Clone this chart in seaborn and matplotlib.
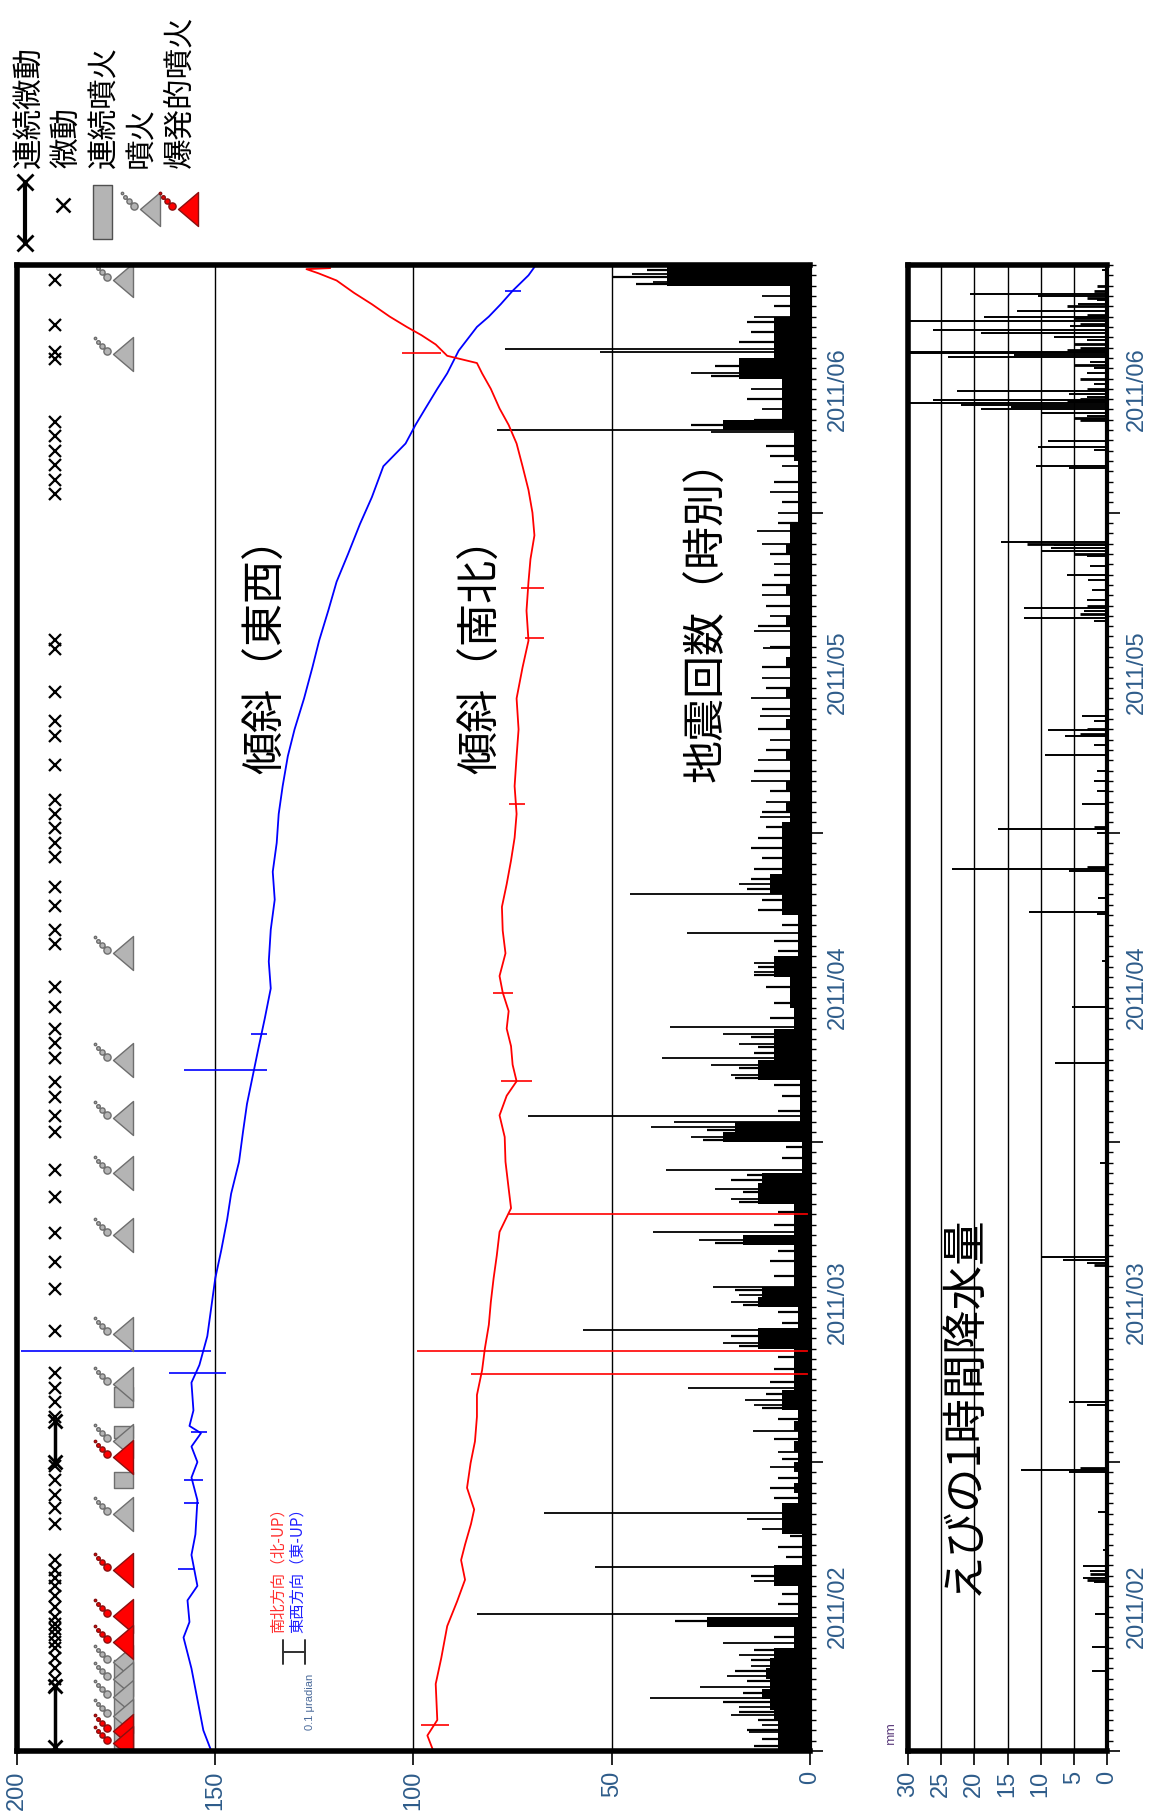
import numpy as np
import pandas as pd
import matplotlib
matplotlib.use("Agg")
import matplotlib.pyplot as plt
import matplotlib.dates as mdates
import matplotlib.transforms as mtransforms
from matplotlib.path import Path
import seaborn as sns

sns.set_theme(style="white")
plt.rcParams["font.family"] = ["Noto Sans CJK JP", "DejaVu Sans"]

START = pd.Timestamp("2011-02-01")
N_DAYS = 144  # Feb 1 - Jun 25

# ---- tilt (values on the 0-200 scale, time in days from Feb 1) ----
ew_day = [0, 2, 5, 8, 11, 12.5, 14.6, 16, 19, 21, 24.3, 26.5, 28, 29.5, 30.8, 31.5, 33,
          35.7, 37.4, 38.8, 40.2, 43, 45.8, 48.5, 51.5, 54, 57.1, 60, 62.7, 65.5, 68.3,
          71, 73.9, 76.5, 79.6, 82.5, 85.2, 88, 90.8, 93.5, 96.4, 99, 102, 105, 107.6,
          110.5, 113.3, 116, 118.9, 121.5, 124.5, 126.7, 128.5, 130.1, 132, 133.5, 135.7,
          137, 138, 139, 140.2, 141.5, 143, 143.8]
ew_val = [151, 153, 154.5, 156, 158, 156.5, 157, 154.5, 156, 155, 154.5, 156, 154.5, 156,
          153.6, 156.5, 155.5, 156, 154, 153, 152, 151, 150, 148.5, 147, 146, 144, 143,
          142, 140.5, 139, 137.5, 136, 136.5, 136, 135, 135.5, 134.5, 134, 133, 131.7,
          130, 127.6, 125.5, 123.8, 121.5, 119.4, 116.5, 113.5, 110.5, 107.6, 102, 99.5,
          97, 94, 91.5, 88.6, 86, 84, 81, 78, 75, 71, 69.5]

ns_day = [0, 1.5, 3, 6.5, 9, 12.1, 14.5, 16.6, 18.5, 20, 22, 23.4, 25.5, 27.9, 30, 32.4,
          34.5, 36.9, 39, 41.3, 43.5, 45.8, 48, 50.3, 52.6, 54.5, 57.1, 59.5, 61.6, 63.5,
          64.9, 66.5, 68.3, 70, 71.7, 73.5, 75.1, 77.3, 79.5, 81.8, 84, 86.3, 88.5, 90.8,
          93.5, 96.4, 99, 102, 105, 107.6, 110.5, 113.3, 115.5, 117.8, 120, 122.2, 124.5,
          126.7, 128.5, 130.1, 132, 133.5, 134.5, 135.2, 136.3, 137.2, 138, 139, 140.2,
          141.3, 142.5, 143.2, 143.6, 143.7]
ns_val = [95, 96.5, 94, 94.4, 93, 91.5, 89, 87, 88, 87, 85.5, 84.7, 86.5, 85.6, 84.5, 84,
          84, 82.7, 82, 81, 80.5, 79.8, 79, 78.3, 75.4, 76, 76.8, 77, 78.3, 76.5, 74, 75,
          75.4, 76.5, 76, 77.5, 78.3, 76.8, 77.5, 77.7, 76.5, 75.4, 74.5, 74, 74.5, 74,
          73.5, 74, 72.5, 71, 71.5, 71, 70.5, 69.5, 70, 71, 72.5, 74, 76, 78.3, 80.5, 82.7,
          84, 91.5, 94.4, 98, 101.7, 106, 110.5, 115, 119.4, 124, 127, 121]

# short offsets of the tilt records (day, low, high)
ew_spike_day = [38.8, 36.6, 66.0, 69.5, 30.9, 26.3, 17.6, 24.0, 141.5]
ew_spike_lo = [151, 147.4, 137, 137, 152, 153, 155, 154, 73]
ew_spike_hi = [199, 161.7, 158, 141, 156, 158, 159.5, 158, 77]
ns_spike_day = [38.8, 36.5, 52.0, 135.5, 107.9, 112.7, 91.8, 64.9, 73.5, 2.5]
ns_spike_lo = [0.5, 0.5, 0.5, 93, 67, 67, 72, 70, 75, 91]
ns_spike_hi = [99, 85.6, 76, 103, 72, 73, 76, 78, 80, 98]

# ---- hourly earthquake counts: daily bulk level + single-hour peaks ----
quake_daily = [8, 8, 8, 9, 10, 12, 10, 11, 10, 9, 4, 4, 26, 3, 3, 3, 9, 9, 2, 2,
               2, 7, 7, 7, 3, 4, 3, 4, 3, 4, 3, 4, 3, 7, 7, 4, 4, 4, 4, 13,
               13, 3, 3, 13, 12, 4, 4, 4, 4, 17, 4, 4, 4, 13, 13, 12, 2, 2, 2, 22,
               19, 2.5, 2.5, 2.5, 2.5, 13, 13, 9, 9, 9, 4, 4, 5, 5, 5, 9, 9, 3, 3, 3,
               3, 7, 7, 10, 10, 7, 7, 7, 7, 7, 5, 6, 5, 6, 5, 5, 6, 5, 5, 6,
               5, 5, 6, 5, 5, 6, 5, 5, 5, 6, 5, 5, 6, 5, 5, 5, 6, 5, 5, 3,
               3, 3, 3, 3, 3, 4, 4, 4, 22, 7, 7, 7, 7, 18, 18, 9, 9, 9, 9, 5,
               5, 5, 36, 36]
quake_spike_day = [70.2, 67.2, 61.5, 61.0, 56.3, 50.3, 45.0, 40.8, 35.2, 34.0, 31.0, 27.5,
                   23.1, 17.8, 13.3, 10.5, 7.3, 6.2, 5.1, 1.8, 143.1, 142.4, 135.9, 135.6,
                   128.0, 127.8, 118.2, 106.9, 100.3, 90.5, 83.0, 79.3, 76.4, 112, 110,
                   108.5, 104, 102, 98, 96, 94, 92, 115, 117, 120, 122, 124.5, 130, 132,
                   133.5, 139, 141, 2.5, 3.5, 4.3, 8.2, 9.3, 16.5, 21.5, 22.5, 29, 33.5,
                   39.5, 43.5, 44.2, 49.5, 53.5, 54.5, 59.5, 60.5, 65.5, 66.5, 68.5, 69.5,
                   75.5, 84]
quake_spike_val = [35.3, 37.4, 71, 34.4, 36.3, 39.5, 24.4, 57.3, 30.7, 16.4, 14.3, 10,
                   67, 54.2, 84, 22, 21, 27.7, 40.3, 15.5, 45, 39.5, 77, 53,
                   79, 25, 13.4, 11.8, 12.6, 12.6, 45.4, 31, 14, 12, 10,
                   14, 12, 15, 10, 13, 15, 11, 9, 12, 8, 10, 7, 12, 15,
                   30, 14, 12, 12, 20, 18, 15, 18, 14, 12, 16, 8, 14,
                   22, 20, 18, 28, 20, 24, 30, 40, 20, 25, 18, 22,
                   14, 18]
# smaller hourly peaks that roughen the edge of the dense black band
quake_small = [(0.5, 14), (1.2, 12), (2.0, 16), (3.0, 13), (3.8, 18), (4.7, 22), (5.6, 17),
               (6.8, 16), (7.8, 19), (8.8, 15), (9.8, 14), (11.0, 9), (12.6, 34), (14.2, 8),
               (15.2, 7), (17.0, 15), (18.8, 6), (19.8, 8), (20.8, 5), (24.5, 9), (25.5, 10),
               (26.5, 8), (28.3, 7), (30.2, 9), (32.2, 8), (33.2, 12), (34.6, 11), (35.8, 10),
               (37.0, 9), (38.2, 8), (39.2, 18), (40.2, 20), (41.5, 7), (42.5, 8), (43.2, 17),
               (44.7, 19), (46.0, 9), (47.5, 10), (48.5, 8), (49.2, 24), (51.0, 9), (52.2, 8),
               (53.2, 18), (54.2, 17), (55.3, 20), (55.8, 16), (57.5, 7), (58.5, 6),
               (59.2, 27), (60.2, 26), (62.0, 8), (63.5, 7), (64.5, 9), (65.2, 19), (66.2, 18),
               (67.6, 14), (68.2, 13), (69.2, 15), (71.0, 10), (72.5, 9), (74.0, 11),
               (75.2, 14), (76.0, 13), (77.5, 8), (78.5, 9), (80.0, 7), (81.5, 13), (82.5, 12),
               (83.5, 16), (84.5, 15), (85.5, 14), (86.5, 12), (87.5, 15), (88.5, 13),
               (89.5, 11), (91, 12), (93, 10), (95, 14), (97, 11), (99, 13), (101, 12),
               (103, 11), (105, 12), (107, 10), (109, 13), (111, 11), (113, 12), (114, 9),
               (116, 10), (119, 8), (121, 7), (123, 9), (125.5, 10), (126.5, 11), (128.5, 30),
               (129, 14), (131, 16), (133.2, 25), (134.2, 24), (136.5, 18), (137.5, 15),
               (138.5, 16), (140, 9), (142.2, 44), (142.8, 50), (143.5, 41)]

# ---- Ebino hourly rainfall (mm) ----
rain_day = [66.7, 57.0, 47.9, 47.6, 47.3, 33.8, 33.5, 27.2, 27.0, 23.2, 19.5, 17.9, 17.4,
            16.8, 16.4, 13.3, 10.1, 7.8, 143.5, 141.2, 141.0, 140.6, 140.2, 139.5, 139.0,
            138.6, 138.1, 137.7, 137.4, 137.0, 136.7, 135.6, 135.5, 135.3, 135.1, 134.6,
            134.0, 133.5, 132.5, 131.8, 131.5, 131.2, 130.9, 130.6, 130.4, 130.2, 130.0,
            129.7, 129.4, 126.9, 126.4, 126.1, 124.5, 124.3, 117.2, 116.9, 116.6, 116.3,
            115.8, 114.8, 114.0, 113.5, 112.5, 111.5, 110.8, 110.5, 109.8, 109.5, 100.3,
            99.8, 98.9, 98.4, 97.5, 96.5, 95.0, 94.0, 93.0, 91.8, 89.3, 89.0, 85.5, 85.3,
            82.7, 81.3, 81.1, 76.6, 72.1]
rain_mm = [7.9, 1.0, 9.9, 6.6, 3, 5.8, 3, 13, 5.8, 1.3, 0.6, 3.6, 2.5,
           3.6, 2, 1.8, 2.3, 2.3, 0.8, 20.6, 10.4, 1.5, 4.3, 13.5, 18.6,
           30, 5.6, 26.2, 19, 8, 3, 30, 30, 14, 23.9, 2.5,
           2, 3, 2, 22.6, 5.8, 3, 26.2, 30, 22, 14.5, 19,
           10, 3, 8.9, 10.4, 2, 10.7, 5.8, 16, 8, 8.5, 10,
           3, 2.5, 6.1, 2.8, 2.2, 3, 12.5, 3.5, 12.5, 2, 3.8,
           2, 8.9, 6.4, 2, 9.4, 1.5, 2, 1.5, 3.8, 16.5, 1.5, 23.4, 5.8,
           1.3, 11.7, 1.5, 0.8, 5.3]
rain_small = [(129.0, 4), (129.2, 5), (130.8, 6), (131.0, 4), (132.0, 3), (133.0, 4),
              (134.3, 5), (135.8, 6), (136.0, 4), (136.3, 5), (138.3, 4), (138.9, 5),
              (139.2, 3), (140.0, 6), (140.8, 3), (141.5, 2), (142.0, 1.5), (117.0, 12),
              (116.0, 5), (110.2, 4), (111.0, 3), (99.0, 3), (98.6, 4), (85.7, 3),
              (89.5, 2), (47.1, 2), (27.4, 4), (17.2, 2.5), (16.6, 3)]

# ---- volcanic activity (days from Feb 1) ----
tremor_day = [142.5, 138.2, 135.6, 134.9, 128.8, 127.4, 126, 124.6, 123.2, 121.8, 107.7,
              106.8, 102.6, 99.8, 98.4, 95.5, 92.2, 90.8, 89.4, 88, 86.6, 83.7, 81.9,
              79.6, 78.2, 74, 72.1, 70, 68.6, 67.2, 64.8, 63.4, 61.5, 60, 56.3, 53.7,
              50.2, 47.4, 44.8, 40.7, 36.6, 35.2, 33.8, 32.4, 27.6, 26.3, 24.8, 23.5, 22,
              18.5, 17.5, 16.8, 16, 15, 14, 13, 12.3, 11.8, 11.2, 10.6, 10, 9, 8, 7, 6.3]
tremor_cont_start = [28.0, 0.4]
tremor_cont_end = [32.0, 6.3]
eruption_day = [142.5, 135.4, 77.3, 67.0, 61.3, 56.0, 50.0, 40.4, 35.6, 30.0, 23.0,
                8.6, 7.0, 5.2, 3.4]
explosive_day = [28.5, 17.5, 13.1, 10.6, 1.9, 0.8]
erupt_cont_start = [0.0, 25.5, 30.3, 33.3]
erupt_cont_end = [8.8, 27.0, 31.5, 35.3]

LABEL_BLUE = "#2e5c8a"
NUM_FONT = ["Liberation Sans", "DejaVu Sans"]


def to_num(days):
    d = START + pd.to_timedelta(np.asarray(days, dtype=float), unit="D")
    return mdates.date2num(d)


def eruption_path():
    tri = Path([(10, -17), (10, 17), (-10, 0), (10, -17)],
               [Path.MOVETO, Path.LINETO, Path.LINETO, Path.CLOSEPOLY])
    puffs = [Path.circle((-16, 3), 3.6), Path.circle((-21, 8), 2.6),
             Path.circle((-25, 12), 1.8), Path.circle((-28, 16), 1.2)]
    return Path.make_compound_path(tri, *puffs)


ERUPT = eruption_path()
ERUPT_MS = 2 * np.abs(ERUPT.vertices).max() * 72 / 100

fig = plt.figure(figsize=(11.6, 18.2), dpi=100)
W, H = 1160, 1820
ax = fig.add_axes([17 / W, 1 - 1751 / H, 793 / W, 1486 / H])
ax_r = fig.add_axes([908 / W, 1 - 1751 / H, 199 / W, 1486 / H])

y0, y1 = to_num(0), to_num(N_DAYS)

# earthquake counts
edges = to_num(np.arange(N_DAYS + 1))
ax.fill_betweenx(edges, 0, np.append(quake_daily, quake_daily[-1]), step="post",
                 color="black", lw=0, zorder=2)
ax.hlines(to_num(quake_spike_day), 0, quake_spike_val, color="black", lw=1.3, zorder=2)
qs_day, qs_val = zip(*quake_small)
ax.hlines(to_num(qs_day), 0, qs_val, color="black", lw=1.6, zorder=2)

# tilt
sns.lineplot(x=ew_val, y=to_num(ew_day), orient="y", sort=False, estimator=None,
             color="#0000ff", lw=1.3, ax=ax, zorder=4)
sns.lineplot(x=ns_val, y=to_num(ns_day), orient="y", sort=False, estimator=None,
             color="#ff0000", lw=1.3, ax=ax, zorder=4)
ax.hlines(to_num(ew_spike_day), ew_spike_lo, ew_spike_hi, color="#0000ff", lw=1.2, zorder=4)
ax.hlines(to_num(ns_spike_day), ns_spike_lo, ns_spike_hi, color="#ff0000", lw=1.2, zorder=4)

# volcanic activity columns
TREM_X, ERUPT_X = 190.5, 173.3
for s, e in zip(tremor_cont_start, tremor_cont_end):
    ax.plot([TREM_X, TREM_X], [to_num(s), to_num(e)], color="black", lw=2.5, zorder=5)
    ax.plot([TREM_X, TREM_X], [to_num(s), to_num(e)], ls="none", marker="x", ms=10,
            mew=2, color="black", zorder=5)
ax.plot(np.full(len(tremor_day), TREM_X), to_num(tremor_day), ls="none", marker="x",
        ms=9, mew=1.6, color="black", zorder=5)
for s, e in zip(erupt_cont_start, erupt_cont_end):
    ax.fill_betweenx([to_num(s), to_num(e)], 170.8, 175.6, facecolor="#b4b4b4",
                     edgecolor="#6e6e6e", lw=1, zorder=5)
ax.plot(np.full(len(eruption_day), ERUPT_X), to_num(eruption_day), ls="none",
        marker=ERUPT, ms=ERUPT_MS, mfc="#b4b4b4", mec="#6e6e6e", mew=1, zorder=6)
ax.plot(np.full(len(explosive_day), ERUPT_X), to_num(explosive_day), ls="none",
        marker=ERUPT, ms=ERUPT_MS, mfc="#ff0000", mec="#8a1010", mew=1, zorder=7)

# rainfall
ax_r.hlines(to_num(rain_day), 0, rain_mm, color="black", lw=1.4, zorder=2)
rs_day, rs_mm = zip(*rain_small)
ax_r.hlines(to_num(rs_day), 0, rs_mm, color="black", lw=2.0, zorder=2)

# axes styling
ax.set_xlim(200, 0)
ax.set_ylim(y0, y1)
ax.set_xticks([200, 150, 100, 50, 0])
ax_r.set_xlim(30, 0)
ax_r.set_ylim(y0, y1)
ax_r.set_xticks([30, 25, 20, 15, 10, 5, 0])
for a in (ax, ax_r):
    a.set_xlabel("")
    a.set_ylabel("")
    a.grid(True, axis="x", color="black", lw=1.0, zorder=0)
    a.grid(False, axis="y")
    for name, sp in a.spines.items():
        sp.set_color("black")
        sp.set_linewidth(3 if name == "right" else 4)
        sp.set_zorder(10)
    a.tick_params(axis="x", bottom=True, direction="out", length=10, width=1.2,
                  labelrotation=90, labelsize=17, labelcolor=LABEL_BLUE, pad=4,
                  color="black")
    a.yaxis.tick_right()
    a.yaxis.set_major_locator(mdates.MonthLocator())
    a.yaxis.set_minor_locator(mdates.DayLocator())
    a.tick_params(axis="y", which="major", right=True, direction="out", length=9,
                  width=1.2, labelright=False, color="black")
    a.tick_params(axis="y", which="minor", right=True, direction="out", length=4.5,
                  width=1.0, color="black")
    for lbl in a.get_xticklabels():
        lbl.set_family(NUM_FONT)

    # month labels centred on the visible part of each month
    trans = mtransforms.blended_transform_factory(a.transAxes, a.transData)
    xpos = 1.035 if a is ax else 1.15
    for m in pd.date_range("2011-02-01", "2011-06-01", freq="MS"):
        lo = max(m, START)
        hi = min(m + pd.offsets.MonthBegin(1), START + pd.Timedelta(days=N_DAYS))
        mid = mdates.date2num(lo + (hi - lo) / 2)
        a.text(xpos, mid, m.strftime("%Y/%m"), transform=trans, rotation=90,
               ha="center", va="center", fontsize=17, color=LABEL_BLUE, family=NUM_FONT)

# labels inside the panels
ax.text(0.315, 0.744, "傾斜（東西）", transform=ax.transAxes, rotation=90,
        ha="center", va="center", fontsize=31, color="black", zorder=8)
ax.text(0.586, 0.744, "傾斜（南北）", transform=ax.transAxes, rotation=90,
        ha="center", va="center", fontsize=31, color="black", zorder=8)
ax.text(0.871, 0.768, "地震回数（時別）", transform=ax.transAxes, rotation=90,
        ha="center", va="center", fontsize=31, color="black", zorder=8)
ax_r.text(0.276, 0.233, "えびの1時間降水量", transform=ax_r.transAxes, rotation=90,
          ha="center", va="center", fontsize=32, color="black", zorder=8)
ax_r.text(-0.09, 0.005, "mm", transform=ax_r.transAxes, rotation=90, ha="center",
          va="bottom", fontsize=9, color="#5a3a7a", clip_on=False)

# tilt scale legend
ax.text(0.329, 0.124, "南北方向（北-UP）", transform=ax.transAxes, rotation=90,
        ha="center", va="center", fontsize=11, color="#ff3030")
ax.text(0.353, 0.124, "東西方向（東-UP）", transform=ax.transAxes, rotation=90,
        ha="center", va="center", fontsize=11, color="#2020ff")
ax.plot([0.335, 0.363], [0.0666, 0.0666], transform=ax.transAxes, color="#303030", lw=1.4)
ax.plot([0.335, 0.335], [0.0586, 0.0746], transform=ax.transAxes, color="#303030", lw=1.4)
ax.plot([0.363, 0.363], [0.0586, 0.0746], transform=ax.transAxes, color="#303030", lw=1.4)
ax.text(0.369, 0.033, "0.1 μradian", transform=ax.transAxes, rotation=90,
        ha="center", va="center", fontsize=8, color="#4a6a9a", family=NUM_FONT)

# symbol legend at the top left
leg = fig.add_axes([0, 1 - 265 / H, 232 / W, 265 / H])
leg.set_xlim(0, 232)
leg.set_ylim(265, 0)
leg.axis("off")
for x, txt in zip([29, 67, 105, 142, 180], ["連続微動", "微動", "連続噴火", "噴火", "爆発的噴火"]):
    leg.text(x, 168, txt, rotation=90, ha="center", va="bottom", fontsize=22, color="black")
leg.plot([25, 25], [182, 243], color="black", lw=3)
leg.plot([25, 25], [182, 243], ls="none", marker="x", ms=11, mew=2, color="black")
leg.plot(63, 205, ls="none", marker="x", ms=10, mew=1.8, color="black")
leg.fill_between([93, 112], 185, 239, facecolor="#b4b4b4", edgecolor="#505050", lw=1)
leg.plot(150, 209, ls="none", marker=ERUPT, ms=ERUPT_MS, mfc="#b4b4b4", mec="#6e6e6e", mew=1)
leg.plot(188, 209, ls="none", marker=ERUPT, ms=ERUPT_MS, mfc="#ff0000", mec="#8a1010", mew=1)

fig.savefig("out.png", dpi=100)
